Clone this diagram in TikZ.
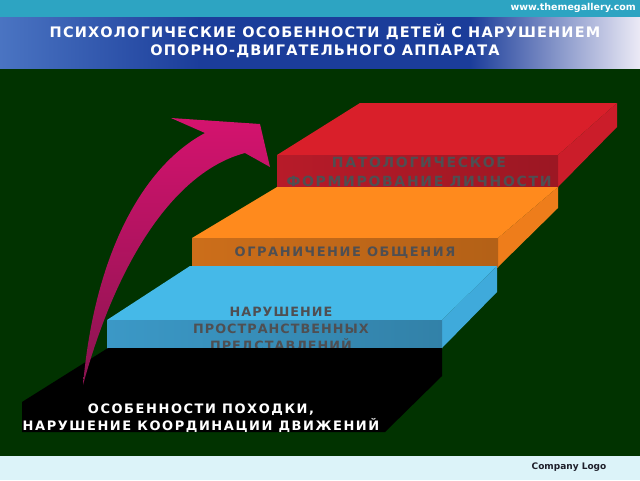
\documentclass[tikz,border=0pt]{standalone}
\usepackage{fontspec}
\setmainfont{DejaVu Sans}
\newfontfamily\titleface{DejaVu Sans}[LetterSpace=8]
\newfontfamily\slabface{DejaVu Sans}[LetterSpace=12]
\usetikzlibrary{positioning}
\definecolor{TopBar}{HTML}{2DA4C2}
\definecolor{Field}{HTML}{013300}
\definecolor{Foot}{HTML}{DCF3F9}
\definecolor{BandL}{HTML}{4A74C2}
\definecolor{BandM}{HTML}{1B3D9A}
\definecolor{BandR}{HTML}{ECEAF6}
\definecolor{RedTop}{HTML}{D91F2A}
\definecolor{RedFront}{HTML}{B71B29}
\definecolor{RedSide}{HTML}{CB1D2A}
\definecolor{OrTop}{HTML}{FF8A1D}
\definecolor{OrFront}{HTML}{CC6E1A}
\definecolor{OrSide}{HTML}{EE7D1B}
\definecolor{SkyTop}{HTML}{45B9E8}
\definecolor{SkyFront}{HTML}{3B98C6}
\definecolor{SkySide}{HTML}{3FAADB}
\definecolor{Ink}{HTML}{4F4F52}
\definecolor{ArrowTop}{HTML}{D4136E}
\definecolor{ArrowBot}{HTML}{8A1450}
\definecolor{LogoInk}{HTML}{1E1E2A}
\pgfdeclarehorizontalshading{band}{100bp}{color(0bp)=(BandL); color(25bp)=(BandL); color(40.6bp)=(BandM); color(61.7bp)=(BandM); color(75bp)=(BandR); color(100bp)=(BandR)}

\begin{document}
\begin{tikzpicture}[x=1pt,y=-1pt,
  slabtext/.style={font=\slabface\bfseries\fontsize{13}{17}\selectfont,text=Ink,align=center,inner sep=0pt},
  titletext/.style={font=\titleface\bfseries\fontsize{14.5}{18}\selectfont,text=white,align=center,inner sep=0pt},
  smalltext/.style={font=\bfseries\fontsize{9.5}{10}\selectfont,inner sep=0pt}]
\useasboundingbox (0,0) rectangle (640,480);
% backdrop
\fill[Field] (0,68) rectangle (640,456);
\fill[TopBar] (0,0) rectangle (640,17);
\shade[shading=band] (0,17) rectangle (640,68);
\fill[Foot] (0,456) rectangle (640,480);
\node[smalltext,text=white,anchor=east] (site) at (636,8) {www.themegallery.com};
\node[titletext] (title) at (325,41) {ПСИХОЛОГИЧЕСКИЕ ОСОБЕННОСТИ ДЕТЕЙ С НАРУШЕНИЕМ\\ОПОРНО-ДВИГАТЕЛЬНОГО АППАРАТА};
\node[smalltext,text=LogoInk,font=\bfseries\fontsize{9}{10}\selectfont] (logo) at (569,467) {Company Logo};
% red slab
\fill[RedTop] (277,155) -- (360,103) -- (617,103) -- (558,155) -- cycle;
\fill[RedSide] (558,155) -- (617,103) -- (617,127) -- (558,187) -- cycle;
\shade[left color=RedFront,right color=RedFront!85!black] (277,155) rectangle (558,187);
\node[slabtext,font=\slabface\bfseries\fontsize{14}{18.5}\selectfont] (lvl4) at (419,172) {ПАТОЛОГИЧЕСКОЕ\\ФОРМИРОВАНИЕ ЛИЧНОСТИ};
% orange slab
\fill[OrTop] (192,238) -- (277,187) -- (558,187) -- (498,238) -- cycle;
\fill[OrSide] (498,238) -- (558,187) -- (558,208) -- (498,267) -- cycle;
\shade[left color=OrFront,right color=OrFront!88!black] (192,238) rectangle (498,267);
\node[slabtext] (lvl3) at (345,253) {ОГРАНИЧЕНИЕ ОБЩЕНИЯ};
% blue slab
\fill[SkyTop] (107,320) -- (190,266) -- (497,266) -- (442,320) -- cycle;
\fill[SkySide] (442,320) -- (497,266) -- (497,292) -- (442,348) -- cycle;
\shade[left color=SkyFront,right color=SkyFront!85!black] (107,320) rectangle (442,348);
\node[slabtext,font=\titleface\bfseries\fontsize{12.8}{17}\selectfont] (lvl2) at (281,330) {НАРУШЕНИЕ\\ПРОСТРАНСТВЕННЫХ\\ПРЕДСТАВЛЕНИЙ};
% black slab
\fill[black] (22,402) -- (108,348) -- (442,348) -- (442,376) -- (385,432) -- (22,432) -- cycle;
\node[slabtext,text=white] (lvl1) at (201,418) {ОСОБЕННОСТИ ПОХОДКИ,\\НАРУШЕНИЕ КООРДИНАЦИИ ДВИЖЕНИЙ};
% rising arrow
\shade[top color=ArrowTop,bottom color=ArrowBot]
  (83,385) .. controls (95,250) and (145,165) .. (205,133)
  -- (171,118) -- (260,124) -- (270,167) -- (245,153)
  .. controls (180,170) and (120,250) .. (83,385) -- cycle;
\end{tikzpicture}
\end{document}
